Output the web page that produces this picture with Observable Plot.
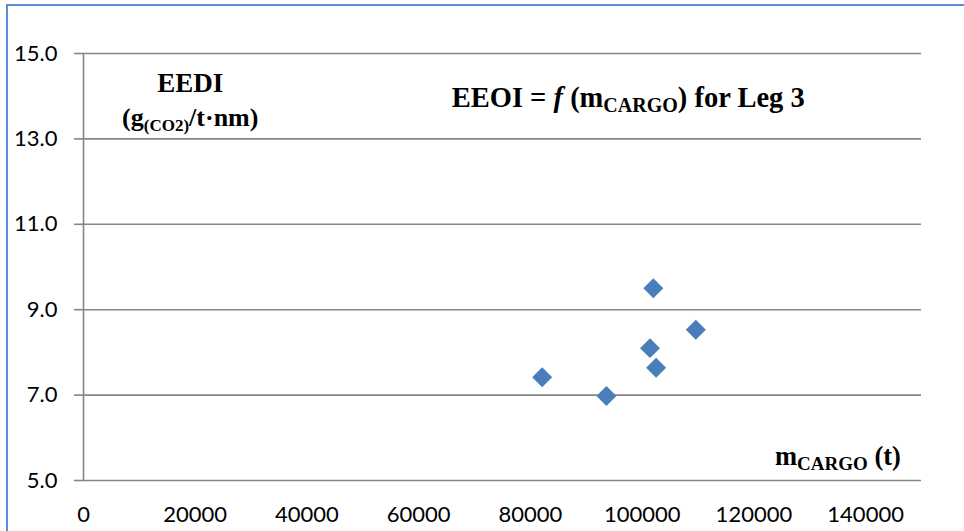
<!DOCTYPE html>
<html>
<head>
<meta charset="utf-8">
<script src="https://cdn.jsdelivr.net/npm/d3@7"></script>
<script src="https://cdn.jsdelivr.net/npm/@observablehq/plot@0.6"></script>
<style>
  html, body { margin: 0; padding: 0; background: #fff; }
  #chart { position: relative; width: 964px; height: 531px; overflow: hidden; }
  #chart svg { position: absolute; left: 0; top: 0; }
  #frame {
    position: absolute; left: 6px; top: 4px; right: -10px; bottom: -10px;
    border-left: 2px solid #5A8ED8; border-top: 2px solid #5A8ED8;
    pointer-events: none;
  }
</style>
</head>
<body>
<div id="chart"><div id="frame"></div></div>
<script>
// Cargo mass (t) and EEOI (g CO2 / t·nm) for each voyage of Leg 3
const cargo = [82100, 93600, 101400, 102000, 102500, 109600];
const eeoi  = [7.42, 6.98, 8.10, 9.50, 7.64, 8.53];

// Axis ticks and extents
const xTicks = [0, 20000, 40000, 60000, 80000, 100000, 120000, 140000];
const yTicks = [5, 7, 9, 11, 13, 15];
const xDomain = [0, 150000];
const yDomain = [5, 15];

const points = cargo.map((c, i) => ({cargo: c, eeoi: eeoi[i]}));

const grid = "#868686";
const plot = Plot.plot({
  width: 964,
  height: 531,
  marginLeft: 83,
  marginRight: 43,
  marginTop: 53,
  marginBottom: 51,
  style: {fontFamily: "Lato, sans-serif", background: "transparent", overflow: "visible"},
  x: {domain: xDomain},
  y: {domain: yDomain},
  marks: [
    Plot.ruleY(yTicks, {stroke: grid, strokeWidth: 1.6}),
    Plot.ruleX([0], {stroke: grid, strokeWidth: 1.6}),
    Plot.axisY({
      ticks: yTicks, tickFormat: d3.format(".1f"), tickSize: 9, tickPadding: 17,
      fontSize: 22, stroke: grid, strokeWidth: 1.6, strokeOpacity: 1, fill: "#000", label: null
    }),
    Plot.axisX({
      ticks: xTicks, tickFormat: d => String(d), tickSize: 0, tickPadding: 26,
      fontSize: 22, fill: "#000", label: null
    }),
    Plot.dot(points, {x: "cargo", y: "eeoi", symbol: "diamond2", r: 9, fill: "#4A7EBB", stroke: "none"})
  ]
});
document.getElementById("chart").prepend(plot);

// Bold serif annotations with subscripts, placed in data coordinates
const sx = plot.scale("x"), sy = plot.scale("y");
const notes = d3.select(plot).append("g")
  .attr("font-family", "'Liberation Serif', 'Times New Roman', serif")
  .attr("font-weight", "bold")
  .attr("fill", "#000");

// Title: EEOI = f (m_CARGO) for Leg 3
const title = notes.append("text")
  .attr("x", sx.apply(66000)).attr("y", sy.apply(13.74))
  .attr("text-anchor", "start")
  .attr("font-size", 28.5);
title.append("tspan").text("EEOI = ");
title.append("tspan").attr("font-style", "italic").text("f");
title.append("tspan").text(" (m");
title.append("tspan").attr("font-size", 20).attr("dy", 5).text("CARGO");
title.append("tspan").attr("dy", -5).text(")");
title.append("tspan").text(" for Leg 3");

// Y-axis caption
notes.append("text")
  .attr("x", sx.apply(19200)).attr("y", sy.apply(14.09))
  .attr("text-anchor", "middle").attr("font-size", 27)
  .text("EEDI");
const unit = notes.append("text")
  .attr("x", sx.apply(19200)).attr("y", sy.apply(13.30))
  .attr("text-anchor", "middle").attr("font-size", 26);
unit.append("tspan").text("(g");
unit.append("tspan").attr("font-size", 17).attr("dy", 5).text("(CO2)");
unit.append("tspan").attr("dy", -5).text("/t·nm)");

// X-axis caption
const xcap = notes.append("text")
  .attr("x", sx.apply(146400)).attr("y", sy.apply(5.35))
  .attr("text-anchor", "end").attr("font-size", 26.5);
xcap.append("tspan").text("m");
xcap.append("tspan").attr("font-size", 19).attr("dy", 5).text("CARGO");
xcap.append("tspan").attr("dy", -5).text(" (t)");
</script>
</body>
</html>
